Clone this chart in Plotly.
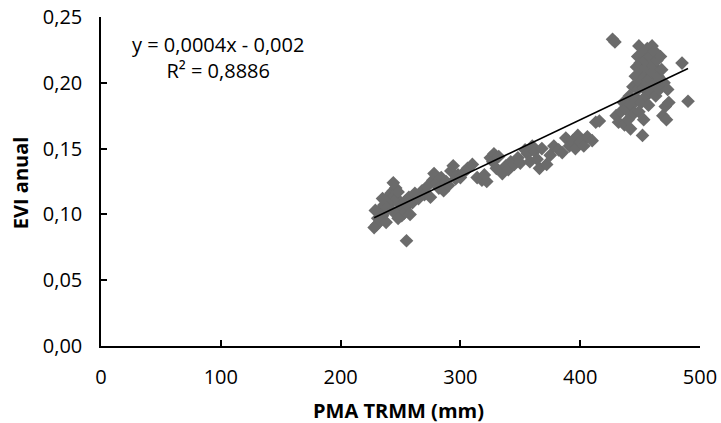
import plotly.graph_objects as go

# Data (PMA TRMM mm vs EVI anual)
pma_left = [230, 231, 232, 233, 234, 235, 236, 237, 238, 239, 240, 241, 242, 243, 244, 245, 246, 247, 248, 249,
            250, 251, 252, 253, 254, 255, 256, 257, 258, 260, 262, 238, 244, 248, 235, 228, 229, 244]
evi_left = [0.092, 0.097, 0.101, 0.095, 0.104, 0.099, 0.107, 0.102, 0.110, 0.105, 0.113, 0.108, 0.116, 0.111,
            0.118, 0.114, 0.120, 0.112, 0.117, 0.108, 0.103, 0.099, 0.105, 0.101, 0.110, 0.080, 0.107, 0.113,
            0.100, 0.109, 0.116, 0.094, 0.102, 0.097, 0.112, 0.090, 0.103, 0.124]

pma_mid = [265, 268, 270, 272, 275, 277, 278, 280, 282, 284, 286, 288, 290, 292, 294, 296, 298, 300, 303, 306,
           310, 314, 318, 320, 322, 325, 327, 328, 330, 332, 335, 338, 340, 342, 345, 348, 350, 354, 356, 358,
           360, 362, 364, 366, 368, 372, 375, 378, 382, 385, 388, 391, 394, 396, 398, 400, 403, 406, 410, 413, 416]
evi_mid = [0.112, 0.118, 0.115, 0.121, 0.113, 0.126, 0.131, 0.124, 0.120, 0.128, 0.118, 0.125, 0.122, 0.133,
           0.137, 0.127, 0.130, 0.128, 0.132, 0.135, 0.138, 0.128, 0.126, 0.130, 0.125, 0.143, 0.140, 0.146,
           0.135, 0.144, 0.131, 0.137, 0.134, 0.140, 0.138, 0.143, 0.139, 0.149, 0.146, 0.140, 0.152, 0.148,
           0.142, 0.135, 0.150, 0.138, 0.145, 0.152, 0.149, 0.147, 0.158, 0.152, 0.156, 0.150, 0.160, 0.155,
           0.152, 0.159, 0.156, 0.170, 0.171]

pma_right = [427, 429, 430, 432, 434, 436, 437, 438, 440, 441, 442, 443, 444, 445, 446, 447, 447, 448, 448, 449,
             449, 450, 450, 451, 451, 452, 452, 453, 453, 454, 454, 455, 455, 456, 456, 457, 457, 458, 458, 459,
             460, 460, 461, 462, 462, 463, 464, 465, 466, 467, 468, 469, 470, 471, 472, 473, 474, 485, 490]
evi_right = [0.233, 0.231, 0.175, 0.170, 0.178, 0.185, 0.168, 0.180, 0.172, 0.190, 0.165, 0.183, 0.197, 0.177,
             0.205, 0.212, 0.188, 0.220, 0.195, 0.228, 0.178, 0.215, 0.200, 0.209, 0.185, 0.222, 0.160, 0.196,
             0.172, 0.217, 0.205, 0.190, 0.211, 0.226, 0.199, 0.214, 0.183, 0.203, 0.220, 0.193, 0.228, 0.208,
             0.213, 0.198, 0.224, 0.190, 0.217, 0.205, 0.195, 0.220, 0.210, 0.175, 0.200, 0.182, 0.172, 0.195,
             0.185, 0.215, 0.186]

pma = pma_left + pma_mid + pma_right
evi = evi_left + evi_mid + evi_right

trend_slope = 0.000433
trend_intercept = -0.0013
trend_x = [min(pma), max(pma)]
trend_y = [trend_slope * v + trend_intercept for v in trend_x]

x_ticks = [0, 100, 200, 300, 400, 500]
y_ticks = [0.00, 0.05, 0.10, 0.15, 0.20, 0.25]

x_title = "PMA TRMM (mm)"
y_title = "EVI anual"
equation_text = "y = 0,0004x - 0,002<br>R² = 0,8886"

FONT = "'Open Sans', sans-serif"

fig = go.Figure()
fig.add_trace(go.Scatter(
    x=pma, y=evi, mode="markers",
    marker=dict(symbol="diamond", size=10.5, color="#6b6b6b", line=dict(width=0)),
    showlegend=False, hoverinfo="skip"))
fig.add_trace(go.Scatter(
    x=trend_x, y=trend_y, mode="lines",
    line=dict(color="black", width=1.5),
    showlegend=False, hoverinfo="skip"))

fig.add_annotation(
    x=0.195, y=0.878, xref="paper", yref="paper", xanchor="center", yanchor="middle",
    text=equation_text, showarrow=False, align="center",
    font=dict(family=FONT, size=20, color="black"))

# Axis titles
fig.add_annotation(
    x=0.497, y=0, xref="paper", yref="paper", xanchor="center", yanchor="middle",
    yshift=-64, text="<b>" + x_title + "</b>", showarrow=False,
    font=dict(family=FONT, size=20, color="black"))
fig.add_annotation(
    x=0, y=0.495, xref="paper", yref="paper", xanchor="center", yanchor="middle",
    xshift=-81, textangle=-90, text="<b>" + y_title + "</b>", showarrow=False,
    font=dict(family=FONT, size=20, color="black"))

fig.update_layout(
    width=721, height=423,
    margin=dict(l=101, r=21, t=17, b=77),
    paper_bgcolor="white", plot_bgcolor="white",
    separators=", ",
    font=dict(family=FONT, size=20, color="black"),
    xaxis=dict(
        range=[0, 500], tickvals=x_ticks, ticks="inside", ticklen=6, tickcolor="black",
        tickwidth=1.5, automargin=False, ticklabelstandoff=12,
        showline=True, linecolor="black", linewidth=1.5, showgrid=False, zeroline=False,
        tickfont=dict(size=20)),
    yaxis=dict(
        range=[0, 0.25], tickvals=y_ticks, tickformat=".2f", ticks="inside", ticklen=6,
        tickwidth=1.5, automargin=False, ticklabelstandoff=13,
        tickcolor="black", showline=True, linecolor="black", linewidth=1.5, showgrid=False,
        zeroline=False,
        tickfont=dict(size=20)),
)

fig.write_html("out.html", config={"displayModeBar": False},
               post_script="document.body.style.margin='0';")
